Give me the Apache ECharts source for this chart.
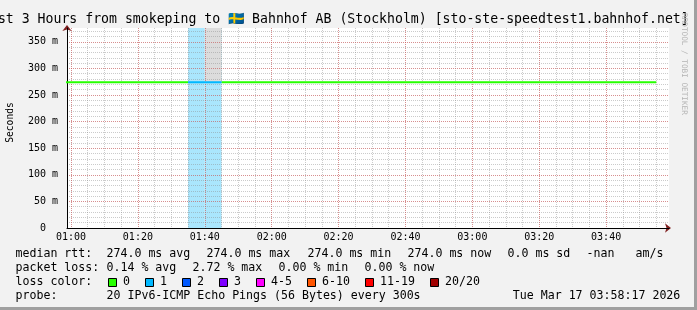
<!DOCTYPE html>
<html>
<head>
<meta charset="utf-8">
<script src="https://cdn.jsdelivr.net/npm/echarts@6/dist/echarts.min.js"></script>
<style>
html,body{margin:0;padding:0;background:#f2f2f2;}
#chart{width:697px;height:310px;}
</style>
</head>
<body>
<div id="chart"></div>
<script>
// ---- data (minutes since 00:00) ----
const rowStart = [55,60,65,70,75,80,85,90,95,100,105,110,115,120,125,130,135,140,145,150,155,160,165,170,175,180,185,190,195,200,205,210,215,220,225,230];
const medianRtt = [274,274,274,274,274,274,274,274,274,274,274,274,274,274,274,274,274,274,274,274,274,274,274,274,274,274,274,274,274,274,274,274,274,274,274,274];
const lostPings = [0,0,0,0,0,0,0,0,1,1,0,0,0,0,0,0,0,0,0,0,0,0,0,0,0,0,0,0,0,0,0,0,0,0,0,0];
const smokeTop  = [null,null,null,null,null,null,null,null,null,400,null,null,null,null,null,null,null,null,null,null,null,null,null,null,null,null,null,null,null,null,null,null,null,null,null,null];
const stepMin = 5;
const xStart = 58.8, xEnd = 238.8;
const yTop = 376;
const majorTickMinutes = [60,80,100,120,140,160,180,200,220];
const minorTickMinutes = [60,65,70,75,80,85,90,95,100,105,110,115,120,125,130,135,140,145,150,155,160,165,170,175,180,185,190,195,200,205,210,215,220,225,230,235];

const titleText = 'Last 3 Hours from smokeping to 🇸🇪 Bahnhof AB (Stockholm) [sto-ste-speedtest1.bahnhof.net]';
const rttStats = ['274.0 ms avg','274.0 ms max','274.0 ms min','274.0 ms now','0.0 ms sd','-nan','am/s'];
const lossStats = ['0.14 % avg','2.72 % max','0.00 % min','0.00 % now'];
const lossLabels = ['0','1','2','3','4-5','6-10','11-19','20/20'];
const lossColors = ['#26ff00','#00b8ff','#0059ff','#7e00ff','#ff00ff','#ff5500','#ff0000','#a10000'];
const probeText = '20 IPv6-ICMP Echo Pings (56 Bytes) every 300s';
const dateText = 'Tue Mar 17 03:58:17 2026';

// ---- layout ----
const rttX = [107,207,308,408,508,587,636];
const lossX = [107,193,279,365];
const boxX = [108.5,145.5,182.5,219.5,256.5,307.5,365.5,430.5];
const rowY = [254.3,268.3,282.3,296.3];
const MONO = '"DejaVu Sans Mono", monospace';
const legendFont = '11.6px ' + MONO;
const minorGrid = 'rgba(140,140,140,0.45)';
const majorGrid = 'rgba(230,70,70,0.45)';

function pad(n){return (n<10?'0':'')+n;}
function fmtTime(m){m=Math.round(m);return pad(Math.floor(m/60))+':'+pad(m%60);}

function lineData(colorIdx){
  const d=[];
  for(let i=0;i<rowStart.length;i++){
    if(lostPings[i]===colorIdx){
      d.push([rowStart[i],medianRtt[i]],[rowStart[i]+stepMin,medianRtt[i]]);
    } else if(d.length && d[d.length-1][1]!==null){
      d.push([rowStart[i],null]);
    }
  }
  return d;
}
const bandData=[];const smokeData=[];
for(let i=0;i<rowStart.length;i++){
  if(lostPings[i]>0) bandData.push([rowStart[i],rowStart[i]+stepMin,lostPings[i]]);
  if(smokeTop[i]!==null) smokeData.push([rowStart[i],rowStart[i]+stepMin,medianRtt[i],smokeTop[i]]);
}

const graphics=[];
graphics.push({type:'rect',shape:{x:694,y:0,width:3,height:310},style:{fill:'#a0a0a0'},silent:true});
graphics.push({type:'rect',shape:{x:0,y:307,width:697,height:3},style:{fill:'#a0a0a0'},silent:true});
graphics.push({type:'text',style:{text:titleText,x:-18,y:19.5,font:'13.2px '+MONO,fill:'#000',align:'left',verticalAlign:'middle'}});
graphics.push({type:'text',x:10.5,y:122.5,rotation:Math.PI/2,style:{text:'Seconds',x:0,y:0,font:'9.6px '+MONO,fill:'#000',align:'center',verticalAlign:'middle'}});
graphics.push({type:'text',x:684,y:13,rotation:-Math.PI/2,style:{text:'RRDTOOL / TOBI OETIKER',x:0,y:0,font:'7.7px '+MONO,fill:'#b4b4b4',align:'left',verticalAlign:'middle'}});
const rowLabels=['median rtt:','packet loss:','loss color:','probe:'];
rowLabels.forEach((t,i)=>graphics.push({type:'text',style:{text:t,x:15.5,y:rowY[i],font:legendFont,fill:'#000',verticalAlign:'middle'}}));
rttStats.forEach((t,i)=>graphics.push({type:'text',style:{text:t,x:rttX[i]-0.5,y:rowY[0],font:legendFont,fill:'#000',verticalAlign:'middle'}}));
lossStats.forEach((t,i)=>graphics.push({type:'text',style:{text:t,x:lossX[i]-0.5,y:rowY[1],font:legendFont,fill:'#000',verticalAlign:'middle'}}));
lossLabels.forEach((t,i)=>{
  graphics.push({type:'rect',shape:{x:boxX[i],y:278.5,width:8,height:8},style:{fill:lossColors[i],stroke:'#000',lineWidth:1}});
  graphics.push({type:'text',style:{text:t,x:boxX[i]+14.5,y:rowY[2],font:legendFont,fill:'#000',verticalAlign:'middle'}});
});
graphics.push({type:'text',style:{text:probeText,x:106.5,y:rowY[3],font:legendFont,fill:'#000',verticalAlign:'middle'}});
graphics.push({type:'text',style:{text:dateText,x:512.8,y:rowY[3],font:legendFont,fill:'#000',verticalAlign:'middle'}});

const chart = echarts.init(document.getElementById('chart'),null,{renderer:'canvas'});
const axisFont = {fontFamily:'DejaVu Sans Mono',fontSize:10,color:'#000'};
chart.setOption({
  backgroundColor:'#f2f2f2',
  animation:false,
  grid:{left:67,top:28,width:602,height:200,show:true,backgroundColor:'#ffffff',borderWidth:0},
  xAxis:[
    {type:'value',position:'bottom',min:xStart,max:xEnd,z:2,
     axisLine:{show:true,onZero:false,lineStyle:{color:'#802020',width:0},symbol:['none','arrow'],symbolSize:[7,6],symbolOffset:[0,2]},
     axisTick:{show:false,customValues:minorTickMinutes},axisLabel:{show:false,customValues:minorTickMinutes},
     splitLine:{show:true,lineStyle:{color:minorGrid,type:'dotted',width:1}}},
    {type:'value',position:'bottom',min:xStart,max:xEnd,z:3,
     axisLine:{show:true,onZero:false,lineStyle:{color:'#000',width:1}},
     axisTick:{show:false,customValues:majorTickMinutes},
     axisLabel:Object.assign({margin:4,customValues:majorTickMinutes,formatter:fmtTime},axisFont),
     splitLine:{show:true,lineStyle:{color:majorGrid,type:'dotted',width:1}}}
  ],
  yAxis:[
    {type:'value',position:'left',min:0,max:yTop,interval:10,z:2,
     axisLine:{show:true,onZero:false,lineStyle:{color:'#802020',width:0},symbol:['none','arrow'],symbolSize:[7,6],symbolOffset:[0,3]},
     axisTick:{show:false},axisLabel:{show:false},
     splitLine:{show:true,showMinLine:false,showMaxLine:false,lineStyle:{color:minorGrid,type:'dotted',width:1}}},
    {type:'value',position:'left',min:0,max:yTop,interval:50,z:3,
     axisLine:{show:true,onZero:false,lineStyle:{color:'#000',width:1}},
     axisTick:{show:false},
     axisLabel:Object.assign({margin:9,showMaxLabel:false,formatter:v=>v===0?'0  ':v+' m'},axisFont),
     splitLine:{show:true,showMinLine:false,showMaxLine:false,lineStyle:{color:majorGrid,type:'dotted',width:1}}}
  ],
  series:[
    {type:'custom',name:'loss background',xAxisIndex:1,yAxisIndex:1,z:1,clip:true,data:bandData,
     renderItem:(params,api)=>{
       const p0=api.coord([api.value(0),yTop]);const p1=api.coord([api.value(1),0]);
       return {type:'rect',shape:{x:p0[0],y:p0[1],width:p1[0]-p0[0],height:p1[1]-p0[1]},style:{fill:'#aae6fd'}};
     }},
    {type:'custom',name:'smoke',xAxisIndex:1,yAxisIndex:1,z:1.5,clip:true,data:smokeData,
     renderItem:(params,api)=>{
       const p0=api.coord([api.value(0),Math.min(api.value(3),yTop)]);const p1=api.coord([api.value(1),api.value(2)]);
       return {type:'rect',shape:{x:p0[0],y:p0[1],width:p1[0]-p0[0],height:p1[1]-p0[1]},style:{fill:'#dcdcdc'}};
     }},
    {type:'line',name:'median 0',xAxisIndex:1,yAxisIndex:1,z:4,data:lineData(0),showSymbol:false,connectNulls:false,clip:true,
     lineStyle:{color:lossColors[0],width:2},silent:true},
    {type:'line',name:'median 1',xAxisIndex:1,yAxisIndex:1,z:4,data:lineData(1),showSymbol:false,connectNulls:false,clip:true,
     lineStyle:{color:lossColors[1],width:2},silent:true}
  ],
  graphic:graphics
});
</script>
</body>
</html>
